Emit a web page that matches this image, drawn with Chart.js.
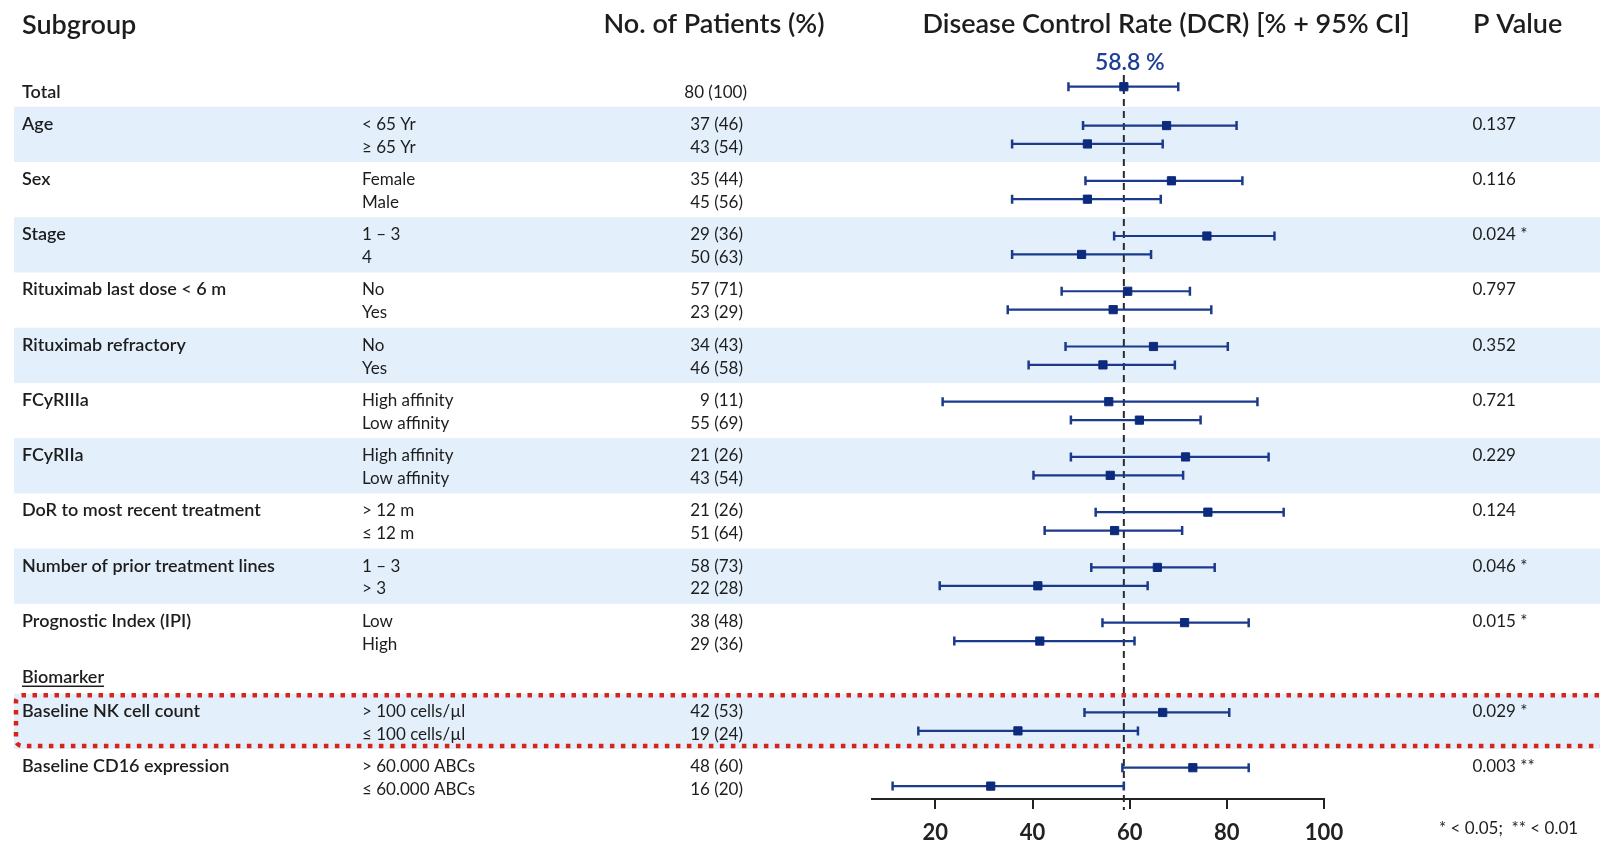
<!DOCTYPE html>
<html>
<head>
<meta charset="utf-8">
<title>Disease Control Rate by Subgroup</title>
<script src="https://cdn.jsdelivr.net/npm/chart.js@4.4.1/dist/chart.umd.min.js"></script>
<style>
  html, body { margin: 0; padding: 0; background: #ffffff; overflow: hidden; }
  canvas { display: block; }
</style>
</head>
<body>
<canvas id="forest" width="1600" height="843"></canvas>
<script>
// ---- data -------------------------------------------------------------
const totalLabel = 'Total';
const totalPatients = '80 (100)';
const totalDcr = 58.8;
const totalLow = 47.4;
const totalHigh = 70.0;

const groupLabels = [
  'Age', 'Sex', 'Stage', 'Rituximab last dose < 6 m', 'Rituximab refractory',
  'FCyRIIIa', 'FCyRIIa', 'DoR to most recent treatment',
  'Number of prior treatment lines', 'Prognostic Index (IPI)',
  'Baseline NK cell count', 'Baseline CD16 expression'
];
const subgroupLabels = [
  ['< 65 Yr', '≥ 65 Yr'], ['Female', 'Male'], ['1 – 3', '4'], ['No', 'Yes'], ['No', 'Yes'],
  ['High affinity', 'Low affinity'], ['High affinity', 'Low affinity'], ['> 12 m', '≤ 12 m'],
  ['1 – 3', '> 3'], ['Low', 'High'], ['> 100 cells/µl', '≤ 100 cells/µl'],
  ['> 60.000 ABCs', '≤ 60.000 ABCs']
];
const patientCounts = [
  ['37 (46)', '43 (54)'], ['35 (44)', '45 (56)'], ['29 (36)', '50 (63)'], ['57 (71)', '23 (29)'],
  ['34 (43)', '46 (58)'], ['9 (11)', '55 (69)'], ['21 (26)', '43 (54)'], ['21 (26)', '51 (64)'],
  ['58 (73)', '22 (28)'], ['38 (48)', '29 (36)'], ['42 (53)', '19 (24)'], ['48 (60)', '16 (20)']
];
const pValues = [
  '0.137', '0.116', '0.024 *', '0.797', '0.352', '0.721', '0.229', '0.124',
  '0.046 *', '0.015 *', '0.029 *', '0.003 **'
];
// DCR point estimates and 95% CI bounds, in %
const dcr = [
  [67.6, 51.3], [68.6, 51.3], [75.9, 50.1], [59.6, 56.6], [64.9, 54.5], [55.7, 62.0],
  [71.5, 56.0], [76.1, 56.9], [65.7, 41.1], [71.3, 41.5], [66.8, 37.0], [73.0, 31.4]
];
const ciLow = [
  [50.4, 35.8], [50.9, 35.8], [56.8, 35.8], [46.0, 34.9], [46.8, 39.2], [21.5, 47.9],
  [47.9, 40.2], [53.0, 42.5], [52.1, 20.9], [54.4, 23.9], [50.7, 16.5], [58.5, 11.2]
];
const ciHigh = [
  [82.0, 66.8], [83.2, 66.4], [89.8, 64.4], [72.4, 76.8], [80.2, 69.3], [86.3, 74.6],
  [88.6, 71.0], [91.7, 70.8], [77.5, 63.7], [84.5, 61.0], [80.5, 61.7], [84.5, 58.8]
];
const xTicks = [20, 40, 60, 80, 100];
const sectionLabel = 'Biomarker';
const sectionStart = 10;        // groups from this index belong to the biomarker section
const highlightedGroup = 10;    // group framed by the red dotted box
const headers = ['Subgroup', 'No. of Patients (%)', 'Disease Control Rate (DCR) [% + 95% CI]', 'P Value'];
const footnote = '* < 0.05;  ** < 0.01';

// ---- row layout (vertical units of the hidden y scale) ------------------
const ROWS = {
  totalMark: 4.71, totalText: 5.34,
  firstGroup: 5.80, groupSpan: 3, sectionGap: 1.88,
  markOffset: [1.02, 2.02], textOffset: [1.25, 2.49],
  sectionLift: 0.58, refTop: 4.08, refBottom: 44.0, yMax: 43.4
};
const COLS = { group: 22, sub: 362, patientsRight: 743, p: 1472.5 };
const groupTop = k => ROWS.firstGroup + ROWS.groupSpan * k + (k >= sectionStart ? ROWS.sectionGap : 0);

const INK = '#1d1d1d';
const NAVY = '#0d2b7d';
const BAR = '#1b3a8c';
const BAND = '#e3f0fc';

// ---- datasets built from the arrays ------------------------------------
const ciSegments = [{ x: totalLow, y: ROWS.totalMark }, { x: totalHigh, y: ROWS.totalMark }, { x: null, y: null }];
const capPoints = [{ x: totalLow, y: ROWS.totalMark }, { x: totalHigh, y: ROWS.totalMark }];
const estPoints = [{ x: totalDcr, y: ROWS.totalMark }];
groupLabels.forEach((g, k) => {
  [0, 1].forEach(r => {
    const y = groupTop(k) + ROWS.markOffset[r];
    ciSegments.push({ x: ciLow[k][r], y }, { x: ciHigh[k][r], y }, { x: null, y: null });
    capPoints.push({ x: ciLow[k][r], y }, { x: ciHigh[k][r], y });
    estPoints.push({ x: dcr[k][r], y });
  });
});

const tablePlugin = {
  id: 'forestTable',
  beforeDraw(chart) {
    const { ctx, scales: { y } } = chart;
    ctx.save();
    ctx.fillStyle = BAND;
    groupLabels.forEach((g, k) => {
      if (k % 2 !== 0) return;
      const t = y.getPixelForValue(groupTop(k));
      const b = y.getPixelForValue(groupTop(k) + ROWS.groupSpan);
      ctx.fillRect(14, t, chart.width - 14, b - t);
    });
    ctx.restore();
  },
  afterDraw(chart) {
    const { ctx, scales: { x, y } } = chart;
    ctx.save();
    ctx.fillStyle = INK;
    ctx.textBaseline = 'alphabetic';

    // column headers
    ctx.font = '600 27px Lato';
    ctx.textAlign = 'left';
    ctx.fillText(headers[0], 22, 34);
    ctx.textAlign = 'center';
    ctx.fillText(headers[1], 714, 33);
    ctx.fillText(headers[2], 1166, 33);
    ctx.textAlign = 'left';
    ctx.fillText(headers[3], 1473, 33);

    // total row
    const ty = y.getPixelForValue(ROWS.totalText);
    ctx.font = '600 18px Lato';
    ctx.fillText(totalLabel, COLS.group, ty);
    ctx.font = '17px Lato';
    ctx.textAlign = 'right';
    ctx.fillText(totalPatients, COLS.patientsRight + 4, ty);

    // subgroup rows
    groupLabels.forEach((g, k) => {
      const rowY = r => y.getPixelForValue(groupTop(k) + ROWS.textOffset[r]);
      ctx.textAlign = 'left';
      ctx.font = '600 18px Lato';
      ctx.fillText(g, COLS.group, rowY(0));
      ctx.font = '17px Lato';
      ctx.fillText(pValues[k], COLS.p, rowY(0));
      [0, 1].forEach(r => {
        ctx.textAlign = 'left';
        ctx.fillText(subgroupLabels[k][r], COLS.sub, rowY(r));
        ctx.textAlign = 'right';
        ctx.fillText(patientCounts[k][r], COLS.patientsRight, rowY(r));
      });
    });

    // section heading, underlined
    const sy = y.getPixelForValue(groupTop(sectionStart) - ROWS.sectionLift);
    ctx.textAlign = 'left';
    ctx.font = '600 18px Lato';
    ctx.fillText(sectionLabel, COLS.group, sy);
    const sw = ctx.measureText(sectionLabel).width;
    ctx.fillRect(COLS.group, sy + 2.5, sw, 1.5);

    // footnote
    ctx.font = '17px Lato';
    ctx.fillText(footnote, 1439, 834);

    // reference value label above the dashed line
    ctx.font = '600 23px Lato';
    ctx.fillStyle = '#1f3f94';
    ctx.textAlign = 'center';
    ctx.fillText(totalDcr.toFixed(1) + ' %', x.getPixelForValue(totalDcr) + 6, 70);

    // red dotted frame around the highlighted group
    const bt = y.getPixelForValue(groupTop(highlightedGroup)) + 1.5;
    const bb = y.getPixelForValue(groupTop(highlightedGroup) + ROWS.groupSpan) - 3;
    const bl = 16, br = chart.width + 10, rad = 6;
    ctx.strokeStyle = '#d6241a';
    ctx.lineWidth = 4.5;
    ctx.setLineDash([4.5, 6.5]);
    ctx.beginPath();
    ctx.moveTo(br, bt);
    ctx.lineTo(bl + rad, bt);
    ctx.arcTo(bl, bt, bl, bt + rad, rad);
    ctx.lineTo(bl, bb - rad);
    ctx.arcTo(bl, bb, bl + rad, bb, rad);
    ctx.lineTo(br, bb);
    ctx.stroke();
    ctx.restore();
  }
};

function build() {
  Chart.defaults.font.family = 'Lato';
  new Chart(document.getElementById('forest'), {
    type: 'scatter',
    data: {
      datasets: [
        {
          label: 'Overall DCR',
          data: [{ x: totalDcr, y: ROWS.refTop }, { x: totalDcr, y: ROWS.refBottom }],
          showLine: true, borderColor: '#2a2a2a', borderWidth: 2, borderDash: [7, 5],
          pointRadius: 0, clip: false, order: 4
        },
        {
          label: '95% CI',
          data: ciSegments,
          showLine: true, spanGaps: false, borderColor: BAR, borderWidth: 2.2,
          pointRadius: 0, order: 3
        },
        {
          label: 'CI bounds',
          data: capPoints,
          pointStyle: 'line', rotation: 90, pointRadius: 4.5,
          borderColor: BAR, borderWidth: 2.5, order: 2
        },
        {
          label: 'DCR',
          data: estPoints,
          pointStyle: 'rect', pointRadius: 5.8,
          backgroundColor: NAVY, borderColor: NAVY, borderWidth: 1, order: 1
        }
      ]
    },
    options: {
      responsive: false,
      animation: false,
      events: [],
      layout: { autoPadding: false, padding: { left: 871.7, right: 276, top: 0, bottom: -14 } },
      plugins: { legend: { display: false }, tooltip: { enabled: false } },
      scales: {
        x: {
          type: 'linear',
          min: 6.9, max: 100,
          afterBuildTicks: axis => { axis.ticks = xTicks.map(v => ({ value: v })); },
          grid: { drawOnChartArea: false, drawTicks: true, tickLength: 10, color: '#222', lineWidth: 2 },
          border: { display: true, color: '#222', width: 2 },
          ticks: { color: '#222', padding: 13, font: { size: 22, weight: 'bold', lineHeight: 1 } }
        },
        y: {
          type: 'linear', display: false, reverse: true,
          min: 0, max: ROWS.yMax
        }
      }
    },
    plugins: [tablePlugin]
  });
}

const fontsReady = document.fonts && document.fonts.load
  ? Promise.all(['17px Lato', '600 18px Lato', 'bold 22px Lato'].map(f => document.fonts.load(f))).catch(() => {})
  : Promise.resolve();
fontsReady.then(build, build);
</script>
</body>
</html>
